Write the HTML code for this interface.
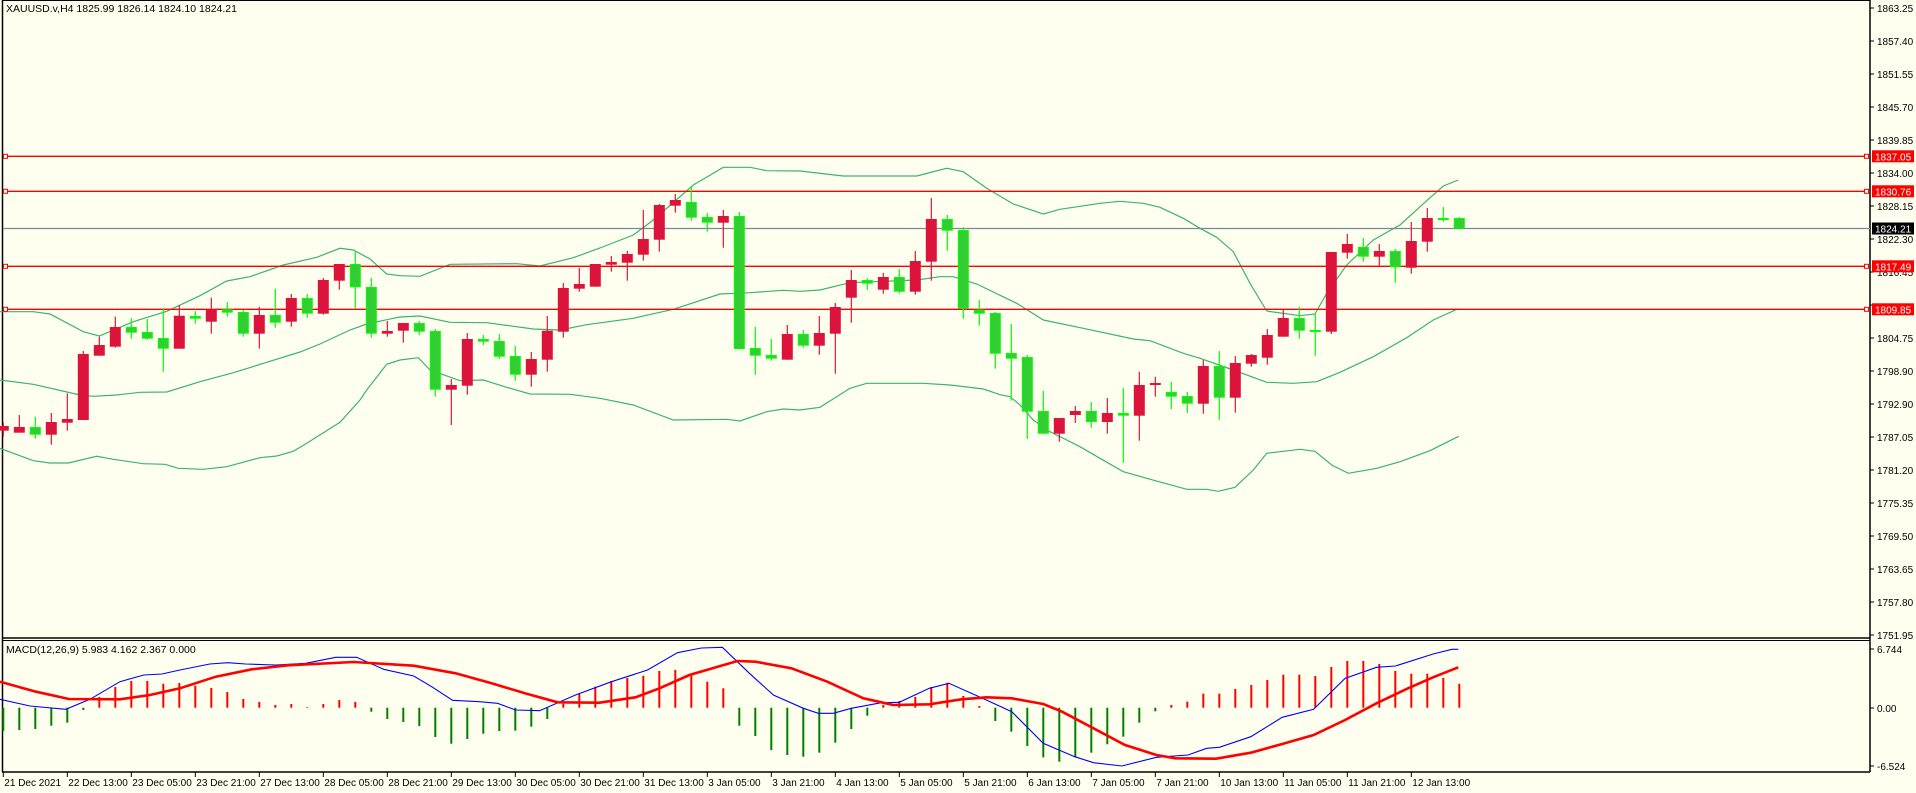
<!DOCTYPE html>
<html><head><meta charset="utf-8"><style>
html,body{margin:0;padding:0;background:#FFFFF0;}
svg{display:block;font-family:"Liberation Sans",Arial,sans-serif;}
</style></head><body>
<svg id="s" width="1916" height="793" viewBox="0 0 1916 793" xmlns="http://www.w3.org/2000/svg">
<rect x="0" y="0" width="1916" height="793" fill="#FFFFF0"/>
<g id="g"></g>
<text x="6" y="12" font-size="10.5" fill="#000">XAUUSD.v,H4  1825.99 1826.14 1824.10 1824.21</text>
<text x="6" y="653" font-size="10.5" fill="#000">MACD(12,26,9) 5.983 4.162 2.367 0.000</text>
</svg>
<script>
var NS="http://www.w3.org/2000/svg",G=document.getElementById("g");
function el(t,a,txt){var e=document.createElementNS(NS,t);for(var k in a)e.setAttribute(k,a[k]);if(txt!==undefined)e.textContent=txt;G.appendChild(e);return e;}
function cx(k){return 3.3+16*k;}
el("line",{x1:2.5,y1:0,x2:2.5,y2:772,stroke:"#000","stroke-width":1.5});
el("line",{x1:1870,y1:0,x2:1870,y2:772,stroke:"#000","stroke-width":1.5});
el("line",{x1:2,y1:0.5,x2:1870,y2:0.5,stroke:"#000","stroke-width":1});
el("line",{x1:2,y1:638,x2:1870,y2:638,stroke:"#000","stroke-width":1.5});
el("line",{x1:2,y1:640.5,x2:1870,y2:640.5,stroke:"#000","stroke-width":1});
el("line",{x1:2,y1:772,x2:1870,y2:772,stroke:"#000","stroke-width":1.5});
var pl=["1863.25","1857.40","1851.55","1845.70","1839.85","1834.00","1828.15","1822.30","1816.45","1810.60","1804.75","1798.90","1792.90","1787.05","1781.20","1775.35","1769.50","1763.65","1757.80","1751.95"];
for(var i=0;i<pl.length;i++){var y=8+33*i;el("line",{x1:1870,y1:y,x2:1874,y2:y,stroke:"#000"});if(i!=9)el("text",{x:1877,y:y+4,"font-size":10,fill:"#000"},pl[i]);}
function tr(arr,ox,oy,xmin,xmax){var r=[];for(var i=0;i<arr.length;i++){var x=ox+arr[i][0]/3,y=oy+arr[i][1]/3;if(x>=xmin&&x<xmax)r.push([x,y]);}return r;}
var up=[].concat(
tr([[0,485],[100,485],[150,492],[250,545],[298,558],[400,515],[500,484],[600,437],[680,393],[750,380],[850,345],[950,322],[1020,295],[1060,300],[1110,327],[1160,372],[1260,380]],0,150,0,400),
tr([[0,377],[60,379],[150,343],[350,341],[420,348],[520,323],[600,294],[700,255],[760,210],[880,105],[970,52],[1050,52],[1100,62],[1260,68]],400,150,400,800),
tr([[0,63],[130,78],[350,78],[440,55],[490,65],[560,115],[640,162],[730,192],[780,178],[900,160],[960,154],[1030,160],[1080,172],[1150,205],[1260,265]],800,150,800,1200),
tr([[0,235],[50,262],[100,305],[150,400],[200,483],[300,497],[345,492],[380,430],[440,345],[520,270],[600,225],[680,152],[730,108],[775,90]],1200,150,1200,2000));
var mid=[].concat(
tr([[0,690],[100,703],[240,735],[280,739],[350,735],[420,727],[500,726],[600,695],[700,668],[800,637],[900,606],[960,582],[1050,540],[1100,522],[1180,505],[1260,497]],0,150,0,400),
tr([[0,501],[60,498],[150,517],[260,518],[400,537],[480,540],[560,524],[700,505],[820,478],[960,432],[1050,428],[1150,421],[1260,420]],400,150,400,800),
tr([[0,424],[60,420],[150,398],[350,390],[420,380],[460,380],[530,402],[650,460],[730,510],[850,535],[1000,567],[1050,572],[1150,610],[1260,645]],800,150,800,1200),
tr([[0,625],[100,660],[200,697],[280,700],[350,695],[420,667],[520,620],[620,563],[700,510],[775,476]],1200,150,1200,2000));
var lo=[].concat(
tr([[0,145],[100,182],[150,189],[205,189],[290,169],[340,178],[430,191],[495,193],[535,205],[610,208],[680,200],[780,173],[830,168],[880,154],[920,130],[1020,67],[1080,0]],0,400,0,362),
tr([[1100,720],[1160,643]],0,150,362,400),
tr([[0,630],[55,623],[90,660],[180,692],[250,690],[320,712],[390,732],[510,733],[600,745],[700,765],[820,810],[980,808],[1020,813],[1100,785],[1150,777],[1260,770]],400,150,400,800),
tr([[0,780],[60,772],[150,715],[200,700],[370,700],[450,705],[550,717]],800,150,800,1000),
tr([[0,14],[30,20],[60,45],[100,90],[150,125],[200,150],[240,170],[300,205],[370,245],[440,265],[560,298],[620,298],[655,304],[705,292],[760,240],[800,190],[840,185],[900,178],[945,184],[995,225],[1045,250],[1130,235],[1200,215],[1290,182],[1376,139]],1000,390,1000,2000));
function poly(p,c,w){el("polyline",{points:p.map(function(a){return a[0].toFixed(1)+","+a[1].toFixed(1)}).join(" "),fill:"none",stroke:c,"stroke-width":w});}
poly(up,"#3CB371",1.2);poly(mid,"#3CB371",1.2);poly(lo,"#3CB371",1.2);
el("line",{x1:3,y1:228.5,x2:1870,y2:228.5,stroke:"#778899","stroke-width":1.2});
var hl=[[156.3,"1837.05"],[191.3,"1830.76"],[266.3,"1817.49"],[309.3,"1809.85"]];
hl.forEach(function(h){el("line",{x1:3,y1:h[0],x2:1870,y2:h[0],stroke:"#FF0000","stroke-width":1.3});
el("rect",{x:3.5,y:h[0]-2,width:4,height:4,fill:"#FFFFF0",stroke:"#FF0000","stroke-width":1});
el("rect",{x:1864.5,y:h[0]-2,width:4,height:4,fill:"#FFFFF0",stroke:"#FF0000","stroke-width":1});
el("rect",{x:1872,y:h[0]-6,width:42,height:12,fill:"#FF0000"});
el("text",{x:1875,y:h[0]+4,"font-size":10,fill:"#fff"},h[1]);});
el("rect",{x:1872,y:222.5,width:42,height:12,fill:"#000"});
el("text",{x:1875,y:232.5,"font-size":10,fill:"#fff"},"1824.21");
var C=[["r",426,430.7,422.7,436.7],["r",427,432.7,415,432.7],["g",427,434.7,416.7,438.7],["r",422,434.7,413,444.7],["r",419,422.7,393.3,430.7],
["r",354,420,351,420],["r",345,355.7,336.7,355.7],["r",327,346.7,316.7,347.7],["g",327,332.7,318,338.7],["g",332,338.7,319,339.7],
["g",338,348.7,308,371.7],["r",315.7,348.7,305,348.7],["g",316,318.7,311,323.7],["r",309.3,321.7,297.7,333.7],["g",309.3,312.7,302,316.7],
["g",312,333.7,310,336.7],["r",315,333.7,307,348.7],["g",315,322.7,288.7,327.7],["r",298,321.7,294,326.7],["g",298,313.7,294,317.7],
["r",280,313.7,278,314.7],["r",264,280.7,264,289.7],["g",264,287.3,251,309],["g",287,333.7,278,337.7],["r",331,333.7,321,336.7],
["r",323,330.7,323,342.7],["g",323,331.7,321,335],["g",331,389.7,329,396.7],["r",385,389.7,379,425],["r",339,385.7,333,394.7],
["g",339,341.7,335,345],["g",341,356.7,334,359],["g",356,374.7,346,380.7],["r",359,374.7,352,386.7],["r",330.7,359.7,316,371.7],
["r",288,331.7,283,337.7],["r",284,288.7,268,291.7],["r",264,286.7,264,286.7],["r",262,264.7,256,271.7],["r",254,262.7,251,280.7],
["r",239,254.7,210,260.7],["r",205,239.7,204,251.7],["r",200,205.7,194,212.7],["g",202,217.7,186.7,220.7],["g",217,222.7,213,231.7],
["r",216,222.7,210,247.7],["g",216,349,212,349.7],["g",348,355.7,327,374.7],["g",355,358.7,339,360.7],["r",334,359.7,325,359.7],
["g",334,345.7,330,347.7],["r",333,345.7,316,354.7],["r",307,333.7,303,373.7],["r",280,297.7,270,322.7],["g",280,283.7,278,289.7],
["r",277,289.7,273,293.7],["g",277,291.7,269,293.7],["r",261,291.7,251,294.7],["r",219,261.7,198,280.7],["g",219,230.7,215,250.7],
["g",230,308.7,227.3,318.7],["g",309.7,313.7,300,325.7],["g",313,353.7,312,368.7],["g",353,358.7,324,400.7],["g",357,411.7,355,439],
["g",411,433.7,391,434.3],["r",418,433.7,418,441.7],["r",411,415,406,423],["g",411,422,402,427.7],["r",413,422,398,433.7],
["g",413,415.7,387.7,462.7],["r",385,415.7,371.7,440.7],["r",383,384.7,376.7,396.7],["g",392,396.7,381.7,409],["g",396,403.7,392,413],
["r",366,403.7,360,413.7],["g",366,397.7,351,419.7],["r",363,397.7,356,412.7],["r",355,363.7,354,366.7],["r",335,357.7,329,364.7],
["r",318,336.7,310,336.7],["g",318,330.7,307,338.7],["g",330,331.7,314,355.7],["r",252,331.7,252,334],["r",244,252.7,234,258.7],
["g",247,256.7,238,261.7],["r",251,256.7,244,265.7],["g",251,267.3,249,282.7],["r",241,267.7,222,273.7],["r",218,241.7,208,251.7],
["g",218,219.3,207,221.7],["g",218,228.3,217,229.7]];
for(var k=0;k<C.length;k++){var c=C[k],x=cx(k),red=c[0]=="r";
var wc=red?"#DC143C":"#00FF00";
el("line",{x1:x,y1:c[3],x2:x,y2:c[4],stroke:wc,"stroke-width":1.2});
var h=Math.max(c[2]-c[1],2);
if(red)el("rect",{x:x-5.5,y:c[1],width:11,height:h,fill:"#DC143C"});
else el("rect",{x:x-5,y:c[1]+0.5,width:10,height:h-1,fill:"#32CD32",stroke:"#00FF00","stroke-width":1});}
var Hh=[731,730,729,725.7,722.7,710,697,687,681,681,683.7,683,685.7,688,692,699,702,705,704,707,704,700,702,711.7,719,722,726,737,743.7,739,733.7,731,730.7,726.7,719,703.7,694,686.7,681,678,675.7,671,670,675.3,681.7,688.3,725.7,736,750,755,756.7,752.7,742.7,729,715.7,705,701,697,687,682.7,696,706,721,731.7,746,757.3,761.7,757.3,752.7,744.3,736.7,722.7,711.3,705,701.7,693.7,693.7,689,685,680,674.7,674.7,676,667,661,661,664,671,673.7,673.7,678,683.7];
var Z=707.7;
for(var k=0;k<Hh.length;k++){var x=cx(k),v=Hh[k];el("line",{x1:x,y1:Z,x2:x,y2:v,stroke:v<Z?"#FF0000":"#008000","stroke-width":2});}
function tr2(arr,ox,sx,xmin,xmax){var r=[];for(var i=0;i<arr.length;i++){var x=ox+arr[i][0]/sx,y=640+arr[i][1]/3;if(x>=xmin&&x<xmax)r.push([x,y]);}return r;}
var sig=[].concat(tr2([[0,125],[60,155],[115,177],[200,178],[250,165],[300,145],[360,110],[420,88],[480,76],[590,66],[690,77],[760,100],[820,130],[880,162],[930,187],[1000,188],[1060,172],[1100,145],[1150,105],[1230,63],[1260,65],[1320,85],[1380,125],[1440,175],[1490,195],[1550,193]],0,1.668,0,932),
tr2([[0,190],[50,178],[90,172],[130,175],[180,192],[210,215],[260,265],[310,315],[360,345],[390,355],[455,356],[510,338],[560,312],[610,285],[660,240],[710,190],[760,145],[800,112],[840,82]],930,1.59,932,2000));
var mac=[].concat(tr2([[0,178],[50,198],[110,208],[150,178],[200,125],[240,105],[270,102],[300,90],[350,72],[380,68],[410,72],[460,75],[510,70],[560,52],[595,52],[640,88],[690,108],[720,140],[755,181],[800,185],[830,190],[860,210],[900,212],[960,165],[1020,125],[1080,90],[1130,38],[1170,24],[1205,22],[1250,100],[1290,165],[1340,205],[1365,220],[1390,220],[1420,205],[1470,188],[1500,187],[1550,145]],0,1.668,0,932),
tr2([[0,143],[30,130],[80,172],[130,215],[180,310],[230,350],[260,368],[305,378],[360,352],[410,345],[440,325],[460,322],[510,290],[560,232],[610,208],[660,115],[710,82],[740,78],[800,42],[830,28],[840,28]],930,1.59,932,2000));
poly(mac,"#0000FF",1.1);poly(sig,"#FF0000",2.6);
[[649,"6.744"],[708,"0.00"],[766,"-6.524"]].forEach(function(a){el("line",{x1:1870,y1:a[0],x2:1874,y2:a[0],stroke:"#000"});el("text",{x:1877,y:a[0]+4,"font-size":10,fill:"#000"},a[1]);});
var tl=["21 Dec 2021","22 Dec 13:00","23 Dec 05:00","23 Dec 21:00","27 Dec 13:00","28 Dec 05:00","28 Dec 21:00","29 Dec 13:00","30 Dec 05:00","30 Dec 21:00","31 Dec 13:00","3 Jan 05:00","3 Jan 21:00","4 Jan 13:00","5 Jan 05:00","5 Jan 21:00","6 Jan 13:00","7 Jan 05:00","7 Jan 21:00","10 Jan 13:00","11 Jan 05:00","11 Jan 21:00","12 Jan 13:00"];
for(var j=0;j<tl.length;j++){var x=3.3+64*j;el("line",{x1:x,y1:772,x2:x,y2:777,stroke:"#000"});el("text",{x:x+1,y:786,"font-size":10,fill:"#000"},tl[j]);}
</script>
</body></html>
